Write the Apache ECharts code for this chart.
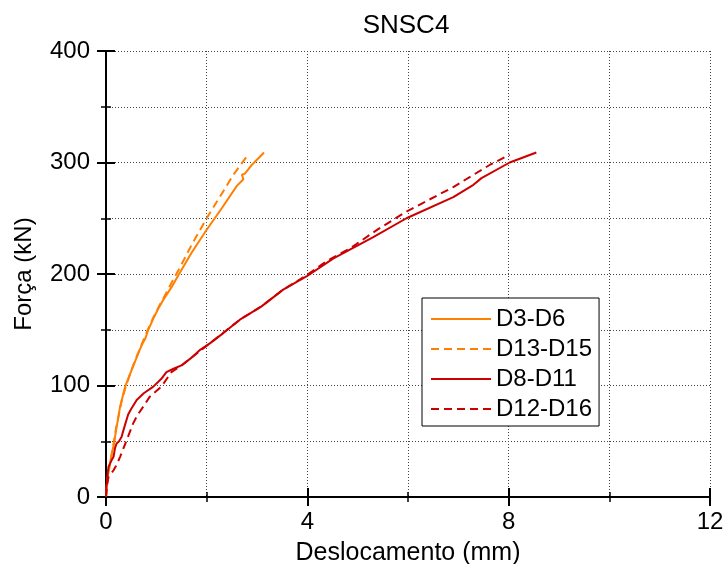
<!DOCTYPE html>
<html>
<head>
<meta charset="utf-8">
<script src="https://cdn.jsdelivr.net/npm/echarts@6/dist/echarts.min.js"></script>
<style>html,body{margin:0;padding:0;background:#fff}#c{width:726px;height:564px}</style>
</head>
<body>
<div id="c"></div>
<script>
// ---- data (Deslocamento mm, Força kN) ----
const d3d6_x = [0,0.01,0.04,0.08,0.12,0.16,0.2,0.24,0.28,0.33,0.38,0.45,0.51,0.6,0.68,0.73,0.78,0.84,0.94,1.04,1.14,1.24,1.3,1.44,1.7,1.99,2.3,2.6,2.73,2.70,2.76,2.9,3.14];
const d3d6_y = [0,9,20,30,40,48,60,70,81,90,99,107,114,124,133,138,142,150,160,169,177,184,188,199,219,239,259,279,285,289,290,298,309];

const d13d15_x = [0,0.02,0.06,0.1,0.15,0.2,0.26,0.32,0.4,0.5,0.6,0.7,0.82,0.95,1.1,1.22,1.3,1.47,1.7,2.0,2.3,2.53,2.79];
const d13d15_y = [0,12,25,35,48,62,75,88,100,113,125,136,149,162,175,185,192,206,226,250,272,289,305];

const d8d11_x = [0,0.01,0.03,0.05,0.1,0.15,0.18,0.21,0.26,0.31,0.36,0.44,0.5,0.61,0.75,0.94,1.1,1.2,1.34,1.5,1.7,1.87,2.07,2.33,2.66,3.09,3.52,3.99,4.52,5.31,5.97,6.9,7.3,7.46,8.02,8.55];
const d8d11_y = [0,9,20,27,32,36,44,48,50,54,62,74,79,87,93,99,106,112,115,118,125,132,138,147,159,171,186,198,214,233,250,269,280,286,300,309];

const d12d16_x = [0,0.02,0.05,0.1,0.15,0.2,0.28,0.35,0.41,0.48,0.54,0.62,0.74,0.87,1.0,1.1,1.3,1.5,1.7,2.07,2.66,3.09,3.52,3.99,4.4,4.85,5.4,5.97,6.9,7.63,8.02];
const d12d16_y = [0,10,18,21,24,28,36,44,51,59,66,73,81,90,95,99,112,118,125,138,159,171,186,199,212,223,240,256,278,298,307];

const seriesNames = ['D3-D6','D13-D15','D8-D11','D12-D16'];
const xTicks = [0,4,8,12];
const yTicks = [0,100,200,300,400];

function pairs(xs, ys){ return xs.map((x,i)=>[x, ys[i]]); }

const FONT = 'Liberation Sans, Arial, sans-serif';
const ORANGE = '#FF8000', RED = '#CC0000';
const gridLine = {show:true, lineStyle:{color:'#444', width:1, type:[1,2]}};

const chart = echarts.init(document.getElementById('c'), null, {renderer:'canvas'});
chart.setOption({
  animation:false,
  backgroundColor:'#fff',
  textStyle:{fontFamily:FONT},
  title:{text:'SNSC4', left:401, textAlign:'center', top:8,
    textStyle:{fontFamily:FONT, fontSize:26, fontWeight:'normal', color:'#000'}},
  grid:{left:106, right:16, top:51, bottom:67, containLabel:false, outerBoundsMode:'none'},
  legend:{orient:'vertical', left:422, top:298, itemGap:6, itemWidth:60, itemHeight:14,
    padding:[9,7,5,8], borderColor:'#000', borderWidth:1, backgroundColor:'#fff',
    itemStyle:{opacity:0},
    textStyle:{fontFamily:FONT, fontSize:24, color:'#000'}, data:seriesNames},
  xAxis:[
    {type:'value', position:'bottom', min:0, max:12, interval:4,
     axisLine:{show:true, lineStyle:{color:'#000', width:2}},
     axisTick:{show:true, inside:false, length:9, lineStyle:{color:'#000', width:2}},
     axisLabel:{show:true, margin:13, fontSize:24, color:'#000', fontFamily:FONT,
       formatter:v=> xTicks.includes(v) ? String(v) : ''},
     splitLine:{show:false},
     name:'Deslocamento (mm)', nameLocation:'middle', nameGap:44,
     nameTextStyle:{fontSize:25, color:'#000', fontFamily:FONT}},
    {type:'value', position:'bottom', min:0, max:12, interval:4,
     axisLine:{show:false},
     axisTick:{show:true, inside:true, length:9, lineStyle:{color:'#000', width:2}},
     minorTick:{show:true, splitNumber:2, length:5, lineStyle:{color:'#000', width:1.5}},
     axisLabel:{show:false},
     splitLine:gridLine, minorSplitLine:gridLine},
    {type:'value', position:'top', min:0, max:12, interval:4,
     axisLine:{show:true, lineStyle:{color:'#000', width:2}},
     axisTick:{show:true, inside:true, length:9, lineStyle:{color:'#000', width:2}},
     minorTick:{show:true, splitNumber:2, length:5, lineStyle:{color:'#000', width:1.5}},
     axisLabel:{show:false}, splitLine:{show:false}}
  ],
  yAxis:[
    {type:'value', position:'left', min:0, max:400, interval:100,
     axisLine:{show:true, lineStyle:{color:'#000', width:2}},
     axisTick:{show:true, inside:false, length:9, lineStyle:{color:'#000', width:2}},
     axisLabel:{show:true, margin:16, fontSize:24, color:'#000', fontFamily:FONT,
       formatter:v=> yTicks.includes(v) ? String(v) : ''},
     splitLine:{show:false},
     name:'Força (kN)', nameLocation:'middle', nameGap:70,
     nameTextStyle:{fontSize:24, color:'#000', fontFamily:FONT}},
    {type:'value', position:'left', min:0, max:400, interval:100,
     axisLine:{show:false},
     axisTick:{show:true, inside:true, length:9, lineStyle:{color:'#000', width:2}},
     minorTick:{show:true, splitNumber:2, length:5, lineStyle:{color:'#000', width:1.5}},
     axisLabel:{show:false},
     splitLine:gridLine, minorSplitLine:gridLine},
    {type:'value', position:'right', min:0, max:400, interval:100,
     axisLine:{show:true, lineStyle:{color:'#000', width:2}},
     axisTick:{show:true, inside:true, length:9, lineStyle:{color:'#000', width:2}},
     minorTick:{show:true, splitNumber:2, length:5, lineStyle:{color:'#000', width:1.5}},
     axisLabel:{show:false}, splitLine:{show:false}}
  ],
  series:[
    {name:seriesNames[0], type:'line', data:pairs(d3d6_x,d3d6_y), symbol:'none', showSymbol:false,
     color:ORANGE, lineStyle:{color:ORANGE, width:2, type:'solid'}, z:5},
    {name:seriesNames[1], type:'line', data:pairs(d13d15_x,d13d15_y), symbol:'none', showSymbol:false,
     color:ORANGE, lineStyle:{color:ORANGE, width:2, type:[8,5]}, z:5},
    {name:seriesNames[2], type:'line', data:pairs(d8d11_x,d8d11_y), symbol:'none', showSymbol:false,
     color:RED, lineStyle:{color:RED, width:2, type:'solid'}, z:5},
    {name:seriesNames[3], type:'line', data:pairs(d12d16_x,d12d16_y), symbol:'none', showSymbol:false,
     color:RED, lineStyle:{color:RED, width:2, type:[8,5]}, z:5}
  ]
});
</script>
</body>
</html>
